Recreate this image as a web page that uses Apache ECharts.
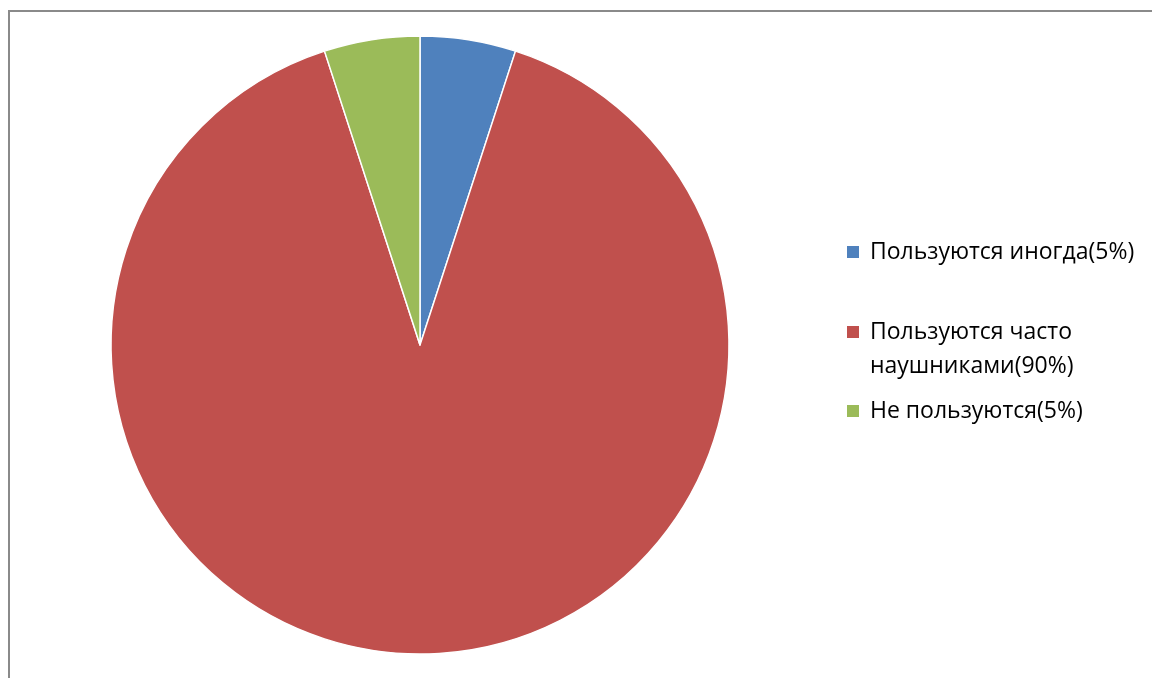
<!DOCTYPE html>
<html><head><meta charset="utf-8">
<script src="https://cdn.jsdelivr.net/npm/echarts@6/dist/echarts.min.js"></script>
<style>html,body{margin:0;padding:0;background:#fff}#c{width:1152px;height:678px}</style>
</head><body><div id="c"></div>
<script>
const categories = ['Пользуются иногда(5%)', 'Пользуются часто наушниками(90%)', 'Не пользуются(5%)'];
const values = [5, 90, 5];
const colors = ['#4F81BD', '#C0504D', '#9BBB59'];
const legendLabels = ['Пользуются иногда(5%)', ' \nПользуются часто\nнаушниками(90%)', 'Не пользуются(5%)'];
const legendTops = [235, 281, 394];

const chart = echarts.init(document.getElementById('c'));
const legends = categories.map((name, i) => ({
  data: [name],
  orient: 'vertical',
  left: 845,
  top: legendTops[i],
  padding: 0,
  itemWidth: 14,
  itemHeight: 14,
  itemGap: 0,
  icon: 'rect',
  selectedMode: false,
  formatter: () => legendLabels[i],
  textStyle: { fontFamily: 'Open Sans', fontSize: 23, color: '#000', lineHeight: 34, padding: [0, 0, 0, 5] }
}));
chart.setOption({
  animation: false,
  color: colors,
  graphic: [{
    type: 'rect', shape: { x: 9, y: 11, width: 1200, height: 700 },
    style: { fill: 'none', stroke: '#8a8a8a', lineWidth: 2 }, silent: true
  }],
  legend: legends,
  series: [{
    type: 'pie',
    center: [420, 345],
    radius: 309,
    startAngle: 90,
    clockwise: true,
    label: { show: false },
    labelLine: { show: false },
    itemStyle: { borderColor: '#fff', borderWidth: 1.5 },
    emphasis: { disabled: true },
    data: categories.map((n, i) => ({ name: n, value: values[i] }))
  }]
});
</script></body></html>
